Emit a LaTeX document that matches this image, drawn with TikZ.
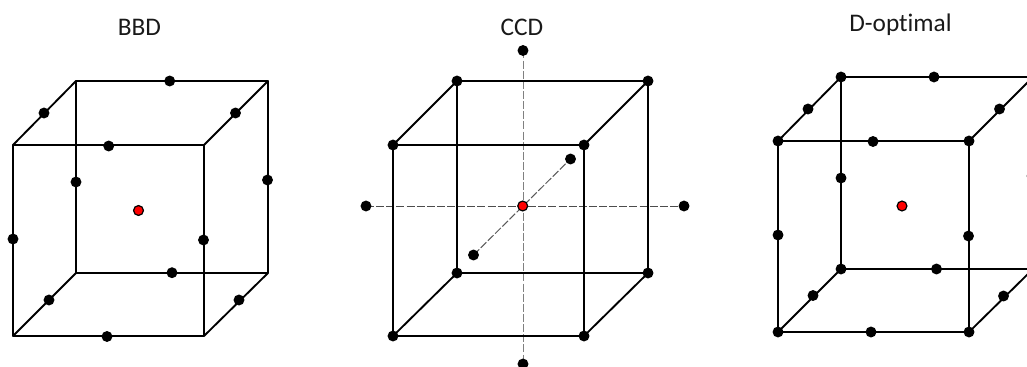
\documentclass[tikz,border=0pt]{standalone}
\usepackage{fontspec}
\setmainfont[Ligatures=NoCommon]{Carlito}
\tikzset{
  px/.style={x=0.75pt,y=-0.75pt},
  edgeline/.style={draw=black,line width=1.4pt,line cap=round,line join=round},
  axisline/.style={draw=#1,line width=0.75pt,dash pattern=on 6pt off 1.6pt},
  dot/.style={circle,fill=black,inner sep=0pt,minimum size=8.2pt},
  reddot/.style={circle,fill=red,draw=black,line width=0.9pt,inner sep=0pt,minimum size=7.4pt},
  titlelabel/.style={inner sep=0pt,text=black!90,font=\fontsize{19}{22}\selectfont}
}
\begin{document}
\begin{tikzpicture}[px]
\useasboundingbox (0,0) rectangle (1027,367);
\clip (0,0) rectangle (1027,367);
% titles
\node[titlelabel] (t1) at (139.5,27) {BBD};
\node[titlelabel] (t2) at (522,27) {CCD};
\node[titlelabel] (t3) at (900.5,25) {D-optimal};
% ---------- BBD
\coordinate (a1) at (13,145);
\coordinate (a2) at (204,145);
\coordinate (a3) at (204,336);
\coordinate (a4) at (13,336);
\coordinate (a5) at (76,81);
\coordinate (a6) at (268,81);
\coordinate (a7) at (268,273);
\coordinate (a8) at (76,273);
\draw[edgeline] (a1)--(a2)--(a3)--(a4)--cycle;
\draw[edgeline] (a5)--(a6)--(a7)--(a8)--cycle;
\draw[edgeline] (a1)--(a5) (a2)--(a6) (a3)--(a7) (a4)--(a8);
\foreach \n/\x/\y in {ad1/169.7/81,ad2/44/113,ad3/235.5/113,ad4/108.7/146,ad5/76/182,ad6/267.5/180,
  ad7/13/239,ad8/203.5/240,ad9/172/272.7,ad10/49/300,ad11/239/300,ad12/107/336.5}
  \node[dot] (\n) at (\x,\y) {};
\node[reddot] (ac) at (138.5,210.5) {};
% ---------- CCD
\coordinate (b1) at (393,145);
\coordinate (b2) at (584,145);
\coordinate (b3) at (584,336);
\coordinate (b4) at (393,336);
\coordinate (b5) at (457,81);
\coordinate (b6) at (648,81);
\coordinate (b7) at (648,273);
\coordinate (b8) at (457,273);
\coordinate (bt) at (523,50.5);
\coordinate (bb) at (523,364);
\coordinate (bl) at (366,206);
\coordinate (br) at (684,206);
\coordinate (bf) at (570.5,159);
\coordinate (bn) at (473.5,255);
\draw[axisline=black!50] (bt)--(bb);
\draw[axisline=black!70] (bl)--(br);
\draw[axisline=black!65] (bn)--(bf);
\draw[edgeline] (b1)--(b2)--(b3)--(b4)--cycle;
\draw[edgeline] (b5)--(b6)--(b7)--(b8)--cycle;
\draw[edgeline] (b1)--(b5) (b2)--(b6) (b3)--(b7) (b4)--(b8);
\foreach \n in {b1,b2,b3,b4,b5,b6,b7,b8,bt,bb,bl,br,bf,bn}
  \node[dot] (\n d) at (\n) {};
\node[reddot] (bc) at (522.7,206) {};
% ---------- D-optimal
\coordinate (c1) at (778,141);
\coordinate (c2) at (969,141);
\coordinate (c3) at (969,332);
\coordinate (c4) at (778,332);
\coordinate (c5) at (841,77);
\coordinate (c6) at (1033,77);
\coordinate (c7) at (1033,269);
\coordinate (c8) at (841,269);
\draw[edgeline] (c1)--(c2)--(c3)--(c4)--cycle;
\draw[edgeline] (c5)--(c6)--(c7)--(c8)--cycle;
\draw[edgeline] (c1)--(c5) (c2)--(c6) (c3)--(c7) (c4)--(c8);
\foreach \n in {c1,c2,c3,c4,c5,c6,c7,c8}
  \node[dot] (\n d) at (\n) {};
\foreach \n/\x/\y in {cd1/934/77,cd2/808/109,cd3/999.5/109,cd4/873/141.5,cd5/841/178,cd6/1032/176,
  cd7/778/235,cd8/968.5/236,cd9/936.5/269,cd10/813/295.5,cd11/1003.5/296,cd12/871/332}
  \node[dot] (\n) at (\x,\y) {};
\node[reddot] (cc) at (902,206) {};
\end{tikzpicture}
\end{document}
